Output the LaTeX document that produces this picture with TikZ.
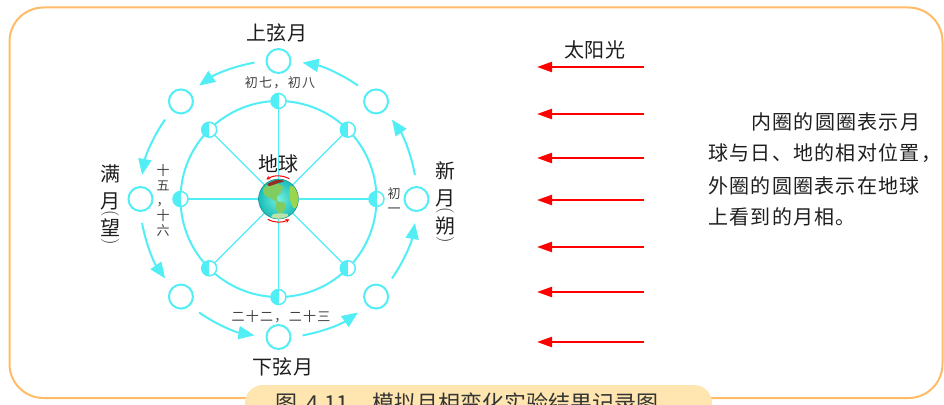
\documentclass[tikz,border=0pt]{standalone}
\usepackage{fontspec}
\usetikzlibrary{arrows.meta,calc}
\IfFontExistsTF{FandolSong-Regular.otf}
  {\newfontfamily\zh{FandolSong-Regular.otf}}
  {\newfontfamily\zh{Noto Sans CJK SC}}
\newcommand\zhbig{\zh\fontsize{20}{24}\selectfont\addfontfeature{LetterSpace=4}}
\newcommand\zhsmall{\zh\fontsize{13}{15}\selectfont\addfontfeature{LetterSpace=10}}
\newcommand\zhnote{\zh\fontsize{20}{24}\selectfont\addfontfeature{LetterSpace=6.5}}
\newcommand\zhcap{\zh\fontsize{22}{26}\selectfont}

\definecolor{orbit}{RGB}{82,238,246}
\definecolor{sunray}{RGB}{255,0,0}
\definecolor{frame}{RGB}{255,187,102}
\definecolor{capfill}{RGB}{255,229,176}
\definecolor{ink}{RGB}{30,30,30}
\definecolor{seain}{RGB}{120,238,220}
\definecolor{seaout}{RGB}{22,190,186}
\definecolor{land}{RGB}{128,204,96}
\definecolor{polar}{RGB}{150,45,35}

\begin{document}
\begin{tikzpicture}[x=1pt,y=-1pt,
  orbitline/.style={draw=orbit, line width=2pt},
  spoke/.style={draw=orbit, line width=1.3pt},
  innermoon/.style={circle, draw=orbit, fill=white, line width=1.5pt,
    minimum size=15pt, inner sep=0pt, outer sep=0pt,
    path picture={\fill[orbit] (path picture bounding box.north west)
      rectangle (path picture bounding box.south);}},
  outermoon/.style={circle, draw=orbit, fill=white, line width=2pt,
    minimum size=24pt, inner sep=0pt},
  ringarrow/.style={draw=orbit, line width=2pt,
    -{Triangle[length=16pt,width=13pt]}},
  sunarrow/.style={draw=sunray, line width=2.2pt,
    -{Triangle[length=15pt,width=10pt]}},
  turn/.style={draw=sunray, line width=1pt, -{Stealth[length=4pt,width=4pt]}},
  big/.style={font=\zhbig, text=ink, inner sep=0pt},
  small/.style={font=\zhsmall, text=ink!85, inner sep=0pt, align=center},
  note/.style={font=\zhnote, text=ink, inner sep=0pt, anchor=west},
  paren/.style={font=\fontsize{18}{18}\selectfont, text=ink, inner sep=0pt, rotate=-90}
]
\useasboundingbox (0,0) rectangle (944,404);

% outer frame
\draw[frame, line width=2pt, rounded corners=34pt] (9.5,7.5) rectangle (942.5,398);

% centre of the orbit diagram
\coordinate (E) at (278.5,199);

% inner orbit with spokes and half-lit moons
\draw[orbitline] (E) circle[radius=98pt];
\node[circle, minimum size=40pt, inner sep=0pt, outer sep=0pt] (earth) at (E) {};
\foreach \i in {0,...,7}
  \node[innermoon] (im\i) at ($(E)+(\i*45:98pt)$) {};
\foreach \i in {0,...,7}
  \draw[spoke] (earth) -- (im\i);

% outer orbit: observed phases and direction of motion
\foreach \i in {0,...,7}
  \node[outermoon] (om\i) at ($(E)+(\i*45:138pt)$) {};
\foreach \i [evaluate=\i as \s using \i*45+10, evaluate=\i as \t using \i*45+35] in {0,...,7}
  \draw[ringarrow] ($(E)+(\s:138.5pt)$) arc[start angle=\s, end angle=\t, radius=138.5pt];

% the globe
\shade[inner color=seain, outer color=seaout] (E) circle[radius=20pt];
\begin{scope}
  \clip (E) circle[radius=20pt];
  \fill[land] plot[smooth cycle] coordinates {
    ($(E)+(-15,-11)$) ($(E)+(-6,-16)$) ($(E)+(4,-13)$) ($(E)+(3,-7)$)
    ($(E)+(-2,-2)$) ($(E)+(-1,3)$) ($(E)+(-8,-1)$) ($(E)+(-14,-4)$)};
  \fill[land] plot[smooth cycle] coordinates {
    ($(E)+(-2,3)$) ($(E)+(6,4)$) ($(E)+(7,9)$) ($(E)+(2,15)$) ($(E)+(-2,11)$)};
  \fill[land!80!yellow] plot[smooth cycle] coordinates {
    ($(E)+(12,-13)$) ($(E)+(20,-8)$) ($(E)+(21,5)$) ($(E)+(15,9)$) ($(E)+(11,-2)$)};
  \fill[land!55!white] plot[smooth cycle] coordinates {
    ($(E)+(-5,15)$) ($(E)+(9,15)$) ($(E)+(7,21)$) ($(E)+(-7,21)$)};
  \fill[polar] plot[smooth cycle] coordinates {
    ($(E)+(-11,-15)$) ($(E)+(-2,-19)$) ($(E)+(6,-18)$) ($(E)+(0,-16)$) ($(E)+(-9,-13)$)};
\end{scope}
\draw[seaout!70!black, line width=0.4pt] (E) circle[radius=20pt];
\draw[turn] ($(E)+(62:23pt)$) arc[start angle=62, end angle=122, radius=23pt];
\draw[turn] ($(E)+(242:23pt)$) arc[start angle=242, end angle=298, radius=23pt];
\node[big] (earthlabel) at (278.5,164) {地球};

% phase names
\node[big] (firstq) at (277,33) {上弦月};
\node[big] (lastq) at (283,367) {下弦月};
\node[big] (full1) at (110,174) {满};
\node[big] (full2) at (110,201) {月};
\node[paren] (full3) at (110,214) {(};
\node[big] (full4) at (110,228) {望};
\node[paren] (full5) at (110,242) {)};
\node[big] (new1) at (445,171) {新};
\node[big] (new2) at (445,198) {月};
\node[paren] (new3) at (445,211) {(};
\node[big] (new4) at (445,226) {朔};
\node[paren] (new5) at (445,240) {)};

% lunar dates
\node[small] (d7) at (280,83) {初七，初八};
\node[small] (d22) at (281,317) {二十二，二十三};
\node[small] (d15) at (163,201) {十\\五\\，\\十\\六};
\node[small] (d1) at (394,201) {初\\一};

% sunlight
\node[big] (sun) at (595,50) {太阳光};
\foreach \y [count=\k] in {67,114,158,200,247,292,342} {
  \coordinate (st\k) at (644,\y);
  \coordinate (sh\k) at (537,\y);
  \draw[sunarrow] (st\k) -- (sh\k);
}

% explanation
\node[note] (n1) at (751,121.5) {内圈的圆圈表示月};
\node[note] (n2) at (708,153.5) {球与日、地的相对位置，};
\node[note] (n3) at (708,185.5) {外圈的圆圈表示在地球};
\node[note] (n4) at (708,217) {上看到的月相。};

% caption
\fill[capfill, rounded corners=18pt] (245,385) rectangle (712,440);
\node[font=\zhcap, text=ink!90, anchor=west, inner sep=0pt] (caption) at (275,403)
  {图\hspace{9pt}4.11\hspace{24pt}模拟月相变化实验结果记录图};
\end{tikzpicture}
\end{document}
